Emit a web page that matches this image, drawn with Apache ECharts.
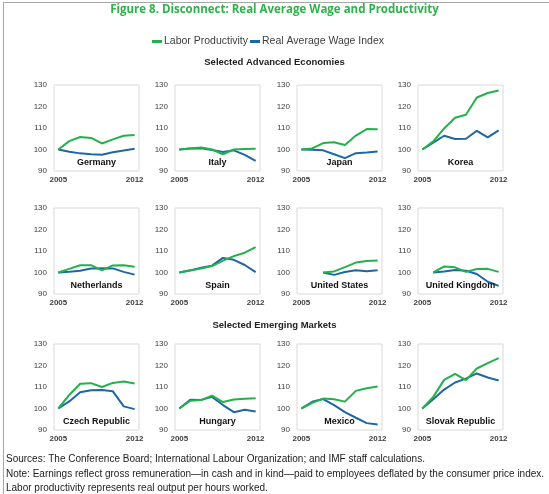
<!DOCTYPE html>
<html>
<head>
    <meta charset="utf-8">
    <title>Figure 8</title>
    <script src="https://cdn.jsdelivr.net/npm/echarts@6/dist/echarts.min.js"></script>
    <style>
        html, body { margin: 0; padding: 0; background: #fff; }
        #chart { width: 549px; height: 494px; }
    </style>
</head>
<body>
<div id="chart"></div>
<script type="text/javascript">
    const years = [2005, 2006, 2007, 2008, 2009, 2010, 2011, 2012];
    const countries = ['Germany', 'Italy', 'Japan', 'Korea',
        'Netherlands', 'Spain', 'United States', 'United Kingdom',
        'Czech Republic', 'Hungary', 'Mexico', 'Slovak Republic'];

    // labor productivity (green)
    const prodGermany = [100, 103.9, 105.8, 105.4, 102.8, 104.7, 106.4, 106.7];
    const prodItaly = [100, 100.5, 100.9, 100.0, 97.8, 100.0, 100.2, 100.4];
    const prodJapan = [100, 100.5, 103.0, 103.4, 102.1, 106.5, 109.5, 109.4];
    const prodKorea = [100, 103.8, 109.8, 114.8, 116.2, 124.2, 126.3, 127.4];
    const prodNetherlands = [100, 101.7, 103.4, 103.4, 101.0, 103.3, 103.4, 102.7];
    const prodSpain = [100, 100.9, 101.9, 103.0, 105.5, 107.6, 109.2, 111.8];
    const prodUS = [null, null, 100, 100.5, 102.5, 104.6, 105.3, 105.6];
    const prodUK = [null, 100, 102.8, 102.4, 100.3, 101.6, 101.7, 100.3];
    const prodCzech = [100, 106.3, 111.5, 111.8, 110.0, 111.9, 112.6, 111.6];
    const prodHungary = [100, 103.6, 103.9, 106.0, 103.0, 104.2, 104.5, 104.8];
    const prodMexico = [100, 102.6, 104.6, 104.3, 103.2, 108.2, 109.4, 110.2];
    const prodSlovak = [100, 105.4, 113.3, 116.1, 113.2, 118.6, 121.1, 123.4];

    // real average wage index (blue)
    const wageGermany = [100, 99.0, 98.2, 97.8, 97.6, 98.7, 99.5, 100.3];
    const wageItaly = [100, 100.5, 100.6, 99.8, 98.8, 99.6, 97.5, 94.7];
    const wageJapan = [100, 99.9, 99.6, 97.8, 96.0, 98.3, 98.6, 99.1];
    const wageKorea = [100, 103.2, 106.4, 104.9, 105.0, 108.7, 105.6, 108.9];
    const wageNetherlands = [100, 100.3, 100.8, 101.9, 102.0, 101.9, 100.3, 99.0];
    const wageSpain = [100, 101.0, 102.2, 103.2, 106.8, 105.9, 103.5, 100.2];
    const wageUS = [null, null, 100, 98.9, 100.2, 101.0, 100.6, 101.0];
    const wageUK = [null, 100, 100.5, 101.2, 100.8, 99.3, 95.7, 93.8];
    const wageCzech = [100, 103.3, 107.6, 108.5, 108.6, 108.0, 101.0, 99.7];
    const wageHungary = [100, 104.1, 104.0, 105.4, 101.6, 98.3, 99.4, 98.6];
    const wageMexico = [100, 103.1, 104.4, 101.6, 98.3, 95.7, 93.2, 92.6];
    const wageSlovak = [100, 104.3, 108.8, 112.1, 113.9, 116.3, 114.4, 113.0];

    const yTicks = [90, 100, 110, 120, 130];
    const xTicks = [2005, 2012];

    const prodAll = [prodGermany, prodItaly, prodJapan, prodKorea, prodNetherlands, prodSpain,
        prodUS, prodUK, prodCzech, prodHungary, prodMexico, prodSlovak];
    const wageAll = [wageGermany, wageItaly, wageJapan, wageKorea, wageNetherlands, wageSpain,
        wageUS, wageUK, wageCzech, wageHungary, wageMexico, wageSlovak];

    const green = '#22b14c';
    const blue = '#1f66a4';
    const colLeft = [54, 175, 297, 418];
    const rowTop = [85, 208, 344];
    const boxW = 85, boxH = 86;

    function pairs(arr) {
        const out = [];
        arr.forEach(function (v, i) {
            if (v !== null) out.push([years[i], v]);
        });
        return out;
    }

    const grids = [], xAxes = [], yAxes = [], series = [], graphics = [];
    countries.forEach(function (name, i) {
        const left = colLeft[i % 4], top = rowTop[Math.floor(i / 4)];
        grids.push({
            left: left, top: top, width: boxW, height: boxH,
            show: true, borderColor: '#d9d9d9', borderWidth: 1
        });
        xAxes.push({
            type: 'value', gridIndex: i, min: 2004.6, max: 2012.4,
            axisLine: {show: false}, axisTick: {show: false}, splitLine: {show: false},
            axisLabel: {
                customValues: xTicks, fontSize: 8, color: '#404040', margin: 5,
                fontFamily: 'Liberation Sans', fontWeight: 'bold',
                formatter: function (v) { return String(v); }
            }
        });
        yAxes.push({
            type: 'value', gridIndex: i, min: yTicks[0], max: yTicks[yTicks.length - 1], interval: 10,
            axisLine: {show: false}, axisTick: {show: false}, splitLine: {show: false},
            axisLabel: {
                fontSize: 8, color: '#404040', margin: 7,
                fontFamily: 'Liberation Sans'
            }
        });
        series.push({
            name: 'Labor Productivity', type: 'line', xAxisIndex: i, yAxisIndex: i,
            data: pairs(prodAll[i]), showSymbol: false, symbol: 'none',
            lineStyle: {color: green, width: 2}, itemStyle: {color: green}, z: 3
        });
        series.push({
            name: 'Real Average Wage Index', type: 'line', xAxisIndex: i, yAxisIndex: i,
            data: pairs(wageAll[i]), showSymbol: false, symbol: 'none',
            lineStyle: {color: blue, width: 2}, itemStyle: {color: blue}, z: 2
        });
        graphics.push({
            type: 'text', x: left + boxW / 2, y: top + boxH - 8, z: 10,
            style: {
                text: name, textAlign: 'center', textVerticalAlign: 'middle', fill: '#111',
                font: 'bold 9px "Liberation Sans"'
            }
        });
    });

    graphics.push({
        type: 'rect', left: 1, top: 0, z: -1,
        shape: {width: 546, height: 493},
        style: {fill: 'none', stroke: '#a6a6a6', lineWidth: 1}
    });
    graphics.push({
        type: 'text', left: 'center', top: 4,
        style: {text: 'Figure 8. Disconnect: Real Average Wage and Productivity', fill: '#2db34a',
            font: 'bold 11.5px "Open Sans"'}
    });
    graphics.push({
        type: 'text', left: 'center', top: 57,
        style: {text: 'Selected Advanced Economies', fill: '#222', font: 'bold 9.5px "Liberation Sans"'}
    });
    graphics.push({
        type: 'text', left: 'center', top: 320,
        style: {text: 'Selected Emerging Markets', fill: '#222', font: 'bold 9.5px "Liberation Sans"'}
    });
    graphics.push({
        type: 'text', left: 6, top: 452,
        style: {
            text: 'Sources: The Conference Board; International Labour Organization; and IMF staff calculations.\n' +
                'Note: Earnings reflect gross remuneration\u2014in cash and in kind\u2014paid to employees deflated by the consumer price index.\n' +
                'Labor productivity represents real output per hours worked.',
            fill: '#222', font: '10px "Liberation Sans"', lineHeight: 14.5
        }
    });

    const chart = echarts.init(document.getElementById('chart'));
    chart.setOption({
        animation: false,
        legend: {
            top: 31, left: 147, itemGap: 2, itemWidth: 10, itemHeight: 3,
            icon: 'rect',
            data: ['Labor Productivity', 'Real Average Wage Index'],
            textStyle: {fontSize: 10.5, color: '#404040', fontFamily: 'Liberation Sans', padding: [0, 0, 0, -3]}
        },
        grid: grids,
        xAxis: xAxes,
        yAxis: yAxes,
        series: series,
        graphic: graphics
    });
</script>
</body>
</html>
